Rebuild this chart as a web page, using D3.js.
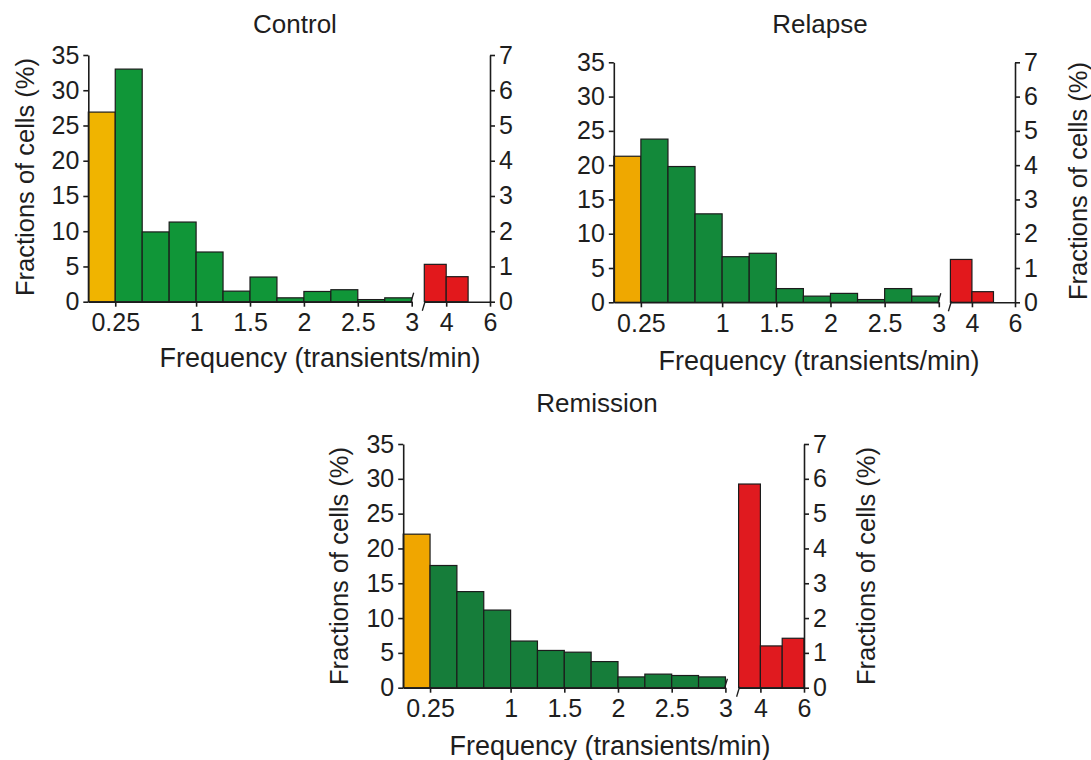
<!DOCTYPE html>
<html>
<head>
<meta charset="utf-8">
<script src="https://cdn.jsdelivr.net/npm/d3@7/dist/d3.min.js"></script>
<style>
  html, body { margin: 0; padding: 0; background: #fff; }
  svg { display: block; }
  text { font-family: "Liberation Sans", Arial, Helvetica, sans-serif; fill: #1e1e1e; }
</style>
</head>
<body>
<svg id="chart" width="1091" height="760"></svg>
<script>
// Bin starts (transients/min): 0.25-wide bins up to 3, 1-wide bins from 3 to 6
const lowBinStarts = [0, 0.25, 0.5, 0.75, 1, 1.25, 1.5, 1.75, 2, 2.25, 2.5, 2.75];
const highBinStarts = [3, 4, 5];
const lowBinWidth = 0.25;
const highBinWidth = 1;

// Fractions of cells (%) per bin, left axis (0-35)
const controlLow   = [26.9, 33.0, 9.9, 11.3, 7.05, 1.5, 3.5, 0.55, 1.45, 1.7, 0.3, 0.55];
const relapseLow   = [21.3, 23.8, 19.8, 12.9, 6.65, 7.15, 2.0, 0.9, 1.3, 0.4, 2.0, 0.9];
const remissionLow = [22.05, 17.55, 13.8, 11.15, 6.7, 5.35, 5.1, 3.75, 1.55, 1.95, 1.75, 1.55];

// Fractions of cells (%) for the high-frequency bins, right axis (0-7)
const controlHigh   = [1.06, 0.71];
const relapseHigh   = [1.25, 0.31];
const remissionHigh = [5.85, 1.2, 1.42];

// Tick values / labels
const lowTicks = [0.25, 1, 1.5, 2, 2.5, 3];
const highTicks = [4, 6];
const leftTicks = [0, 5, 10, 15, 20, 25, 30, 35];
const rightTicks = [0, 1, 2, 3, 4, 5, 6, 7];

const xTitle = "Frequency (transients/min)";
const yTitle = "Fractions of cells (%)";

// Panel placement and styling
const panels = [
  { title: "Control", low: controlLow, high: controlHigh,
    x0: 88.3, x3: 411.7, xr0: 424.3, xr1: 490, y0: 301.7, yTop: 55,
    titleX: 295, titleY: 33, xLabelX: 320, xLabelY: 367,
    leftLabelX: 25, rightLabelX: null, yLabelY: 177,
    orange: "#F0B400", green: "#109638", red: "#E2181C" },
  { title: "Relapse", low: relapseLow, high: relapseHigh,
    x0: 613.8, x3: 938.8, xr0: 950.4, xr1: 1015, y0: 302.3, yTop: 62.3,
    titleX: 820, titleY: 33, xLabelX: 819, xLabelY: 370,
    leftLabelX: null, rightLabelX: 1078, yLabelY: 181,
    orange: "#EFA800", green: "#13893A", red: "#E2181C" },
  { title: "Remission", low: remissionLow, high: remissionHigh,
    x0: 403.2, x3: 725.4, xr0: 738.6, xr1: 804, y0: 687.7, yTop: 444,
    titleX: 597, titleY: 412, xLabelX: 610, xLabelY: 755,
    leftLabelX: 339, rightLabelX: 866, yLabelY: 566,
    orange: "#F0A600", green: "#167D3A", red: "#E01A1F" }
];

const svg = d3.select("#chart");
const ink = "#1c1c1c";
const tickFont = 25;

function drawPanel(p) {
  const g = svg.append("g");
  const xLow = d3.scaleLinear().domain([0, 3]).range([p.x0, p.x3]);
  const xHigh = d3.scaleLinear().domain([3, 6]).range([p.xr0, p.xr1]);
  const yL = d3.scaleLinear().domain([0, 35]).range([p.y0, p.yTop]);
  const yR = d3.scaleLinear().domain([0, 7]).range([p.y0, p.yTop]);

  // low-frequency bars
  g.selectAll("rect.low")
    .data(p.low.map((v, i) => ({ start: lowBinStarts[i], v, i })))
    .join("rect")
    .attr("class", "low")
    .attr("x", d => xLow(d.start))
    .attr("width", d => xLow(d.start + lowBinWidth) - xLow(d.start))
    .attr("y", d => yL(d.v))
    .attr("height", d => yL(0) - yL(d.v))
    .attr("fill", d => d.i === 0 ? p.orange : p.green)
    .attr("stroke", ink)
    .attr("stroke-width", 1.2);

  // high-frequency bars
  g.selectAll("rect.high")
    .data(p.high.map((v, i) => ({ start: highBinStarts[i], v })))
    .join("rect")
    .attr("class", "high")
    .attr("x", d => xHigh(d.start))
    .attr("width", d => xHigh(d.start + highBinWidth) - xHigh(d.start))
    .attr("y", d => yR(d.v))
    .attr("height", d => yR(0) - yR(d.v))
    .attr("fill", p.red)
    .attr("stroke", ink)
    .attr("stroke-width", 1.2);

  const styleAxis = sel => {
    sel.attr("font-size", tickFont)
       .attr("font-family", "'Liberation Sans', Arial, sans-serif");
    sel.selectAll("path.domain").attr("stroke", ink).attr("stroke-width", 1.6);
    sel.selectAll(".tick line").attr("stroke", ink).attr("stroke-width", 1.6);
    sel.selectAll(".tick text")
      .attr("fill", "#1e1e1e")
      .attr("font-size", tickFont);
  };

  const fmt = d => String(d);

  // x axes (broken)
  g.append("g")
    .attr("transform", `translate(0,${p.y0})`)
    .call(d3.axisBottom(xLow).tickValues(lowTicks).tickSize(5).tickSizeOuter(0)
      .tickPadding(7).tickFormat(fmt))
    .call(styleAxis);
  g.append("g")
    .attr("transform", `translate(0,${p.y0})`)
    .call(d3.axisBottom(xHigh).tickValues(highTicks).tickSize(5).tickSizeOuter(0)
      .tickPadding(7).tickFormat(fmt))
    .call(styleAxis);

  // break marks
  g.append("line")
    .attr("x1", p.x3 - 1).attr("y1", p.y0 + 1)
    .attr("x2", p.x3 + 2).attr("y2", p.y0 - 9)
    .attr("stroke", ink).attr("stroke-width", 1.3);
  g.append("line")
    .attr("x1", p.xr0 - 2).attr("y1", p.y0 + 9)
    .attr("x2", p.xr0 + 1).attr("y2", p.y0 - 1)
    .attr("stroke", ink).attr("stroke-width", 1.3);

  // y axes
  g.append("g")
    .attr("transform", `translate(${p.x0},0)`)
    .call(d3.axisLeft(yL).tickValues(leftTicks).tickSize(5).tickSizeOuter(0)
      .tickPadding(4).tickFormat(fmt))
    .call(styleAxis);
  g.append("g")
    .attr("transform", `translate(${p.xr1},0)`)
    .call(d3.axisRight(yR).tickValues(rightTicks).tickSize(5).tickSizeOuter(0)
      .tickPadding(4).tickFormat(fmt))
    .call(styleAxis);

  // titles and axis labels
  g.append("text")
    .attr("x", p.titleX).attr("y", p.titleY)
    .attr("text-anchor", "middle")
    .attr("font-size", 26).attr("fill", "#2a2a2a")
    .text(p.title);

  g.append("text")
    .attr("x", p.xLabelX).attr("y", p.xLabelY)
    .attr("text-anchor", "middle")
    .attr("font-size", 27)
    .text(xTitle);

  [p.leftLabelX, p.rightLabelX].forEach(lx => {
    if (lx === null) return;
    g.append("text")
      .attr("transform", `translate(${lx},${p.yLabelY}) rotate(-90)`)
      .attr("text-anchor", "middle")
      .attr("dy", "0.35em")
      .attr("font-size", 25.5)
      .text(yTitle);
  });
}

panels.forEach(drawPanel);
</script>
</body>
</html>
